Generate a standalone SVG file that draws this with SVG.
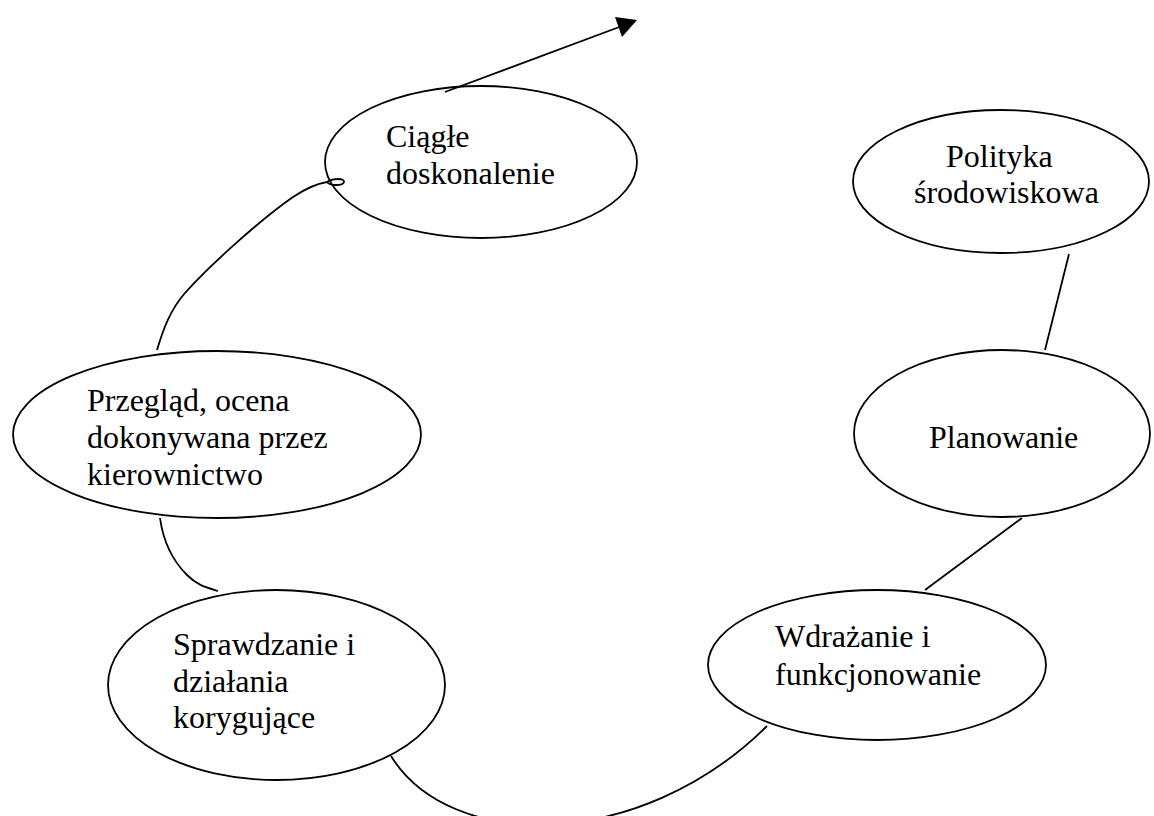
<svg xmlns="http://www.w3.org/2000/svg" width="1154" height="816" viewBox="0 0 1154 816">
<style>
.n{fill:none;stroke:#000;stroke-width:1.8}
.t{font-family:"Liberation Serif","Times New Roman",serif;font-size:32px;fill:#000}
.c{fill:none;stroke:#000;stroke-width:1.8}
</style>
<rect width="1154" height="816" fill="#fff"/>
<g id="connectors">
<path class="c" d="M445,92 L622,26"/>
<polygon points="637,20 615,17 622,37" fill="#000"/>
<path class="c" d="M157,350 C163,330 170,310 185,293 C210,265 260,220 293,197 C305,189 315,184 327,182"/>
<path class="c" d="M327,182 C333,178 345,178 344,182 C343,186 330,186 327,182"/>
<path class="c" d="M160,518 C163,540 172,560 187,575 C197,585 205,587 218,591"/>
<path class="c" d="M391,756 C450,852 640,852 767,726"/>
<line class="c" x1="1069" y1="254" x2="1045" y2="350"/>
<line class="c" x1="1022" y1="518" x2="925" y2="590"/>
</g>
<g id="ciagle">
<ellipse class="n" cx="481" cy="162" rx="156" ry="76"/>
<text class="t" x="386" y="147">Ciągłe</text>
<text class="t" x="386" y="184">doskonalenie</text>
</g>
<g id="polityka">
<ellipse class="n" cx="1001" cy="181.5" rx="148" ry="71.5"/>
<text class="t" x="946" y="167">Polityka</text>
<text class="t" x="914" y="203">środowiskowa</text>
</g>
<g id="przeglad">
<ellipse class="n" cx="217" cy="434.5" rx="204" ry="83.5"/>
<text class="t" x="87" y="411">Przegląd, ocena</text>
<text class="t" x="87" y="448">dokonywana przez</text>
<text class="t" x="87" y="485">kierownictwo</text>
</g>
<g id="planowanie">
<ellipse class="n" cx="1002" cy="433.5" rx="148" ry="83.5"/>
<text class="t" x="929" y="448">Planowanie</text>
</g>
<g id="wdrazanie">
<ellipse class="n" cx="877" cy="665" rx="169" ry="75"/>
<text class="t" x="775" y="647">Wdrażanie i</text>
<text class="t" x="775" y="685">funkcjonowanie</text>
</g>
<g id="sprawdzanie">
<ellipse class="n" cx="276.5" cy="685" rx="168.5" ry="95"/>
<text class="t" x="173" y="655">Sprawdzanie i</text>
<text class="t" x="173" y="692">działania</text>
<text class="t" x="173" y="728">korygujące</text>
</g>
</svg>
